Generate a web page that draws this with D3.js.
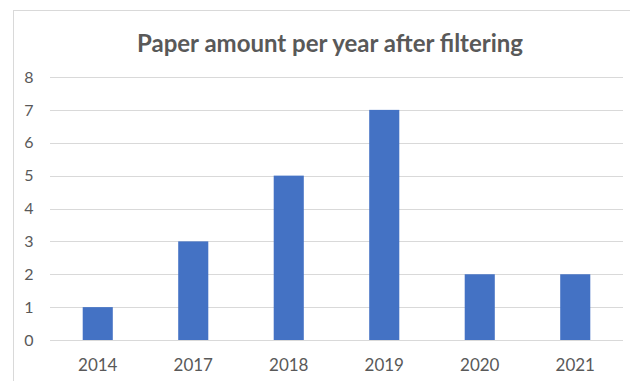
<!DOCTYPE html>
<html>
<head>
<meta charset="utf-8">
<script src="https://cdn.jsdelivr.net/npm/d3@7"></script>
<style>
  html, body { margin: 0; padding: 0; background: #fff; }
  svg { display: block; }
</style>
</head>
<body>
<svg id="chart" width="630" height="381"></svg>
<script>
const years = ["2014", "2017", "2018", "2019", "2020", "2021"];
const paperCounts = [1, 3, 5, 7, 2, 2];
const yTicks = [0, 1, 2, 3, 4, 5, 6, 7, 8];
const chartTitle = "Paper amount per year after filtering";

const svg = d3.select("#chart");
const plot = { left: 50, right: 623, top: 77, bottom: 340 };
const textColor = "#595959";
const fontFamily = "Lato, 'Open Sans', sans-serif";

// chart frame
svg.append("rect")
  .attr("x", 13.5).attr("y", 10.5)
  .attr("width", 640).attr("height", 400)
  .attr("fill", "#fff").attr("stroke", "#d9d9d9").attr("stroke-width", 1);

const x = d3.scaleBand().domain(years).range([plot.left, plot.right]).paddingInner(0.685).paddingOuter(0.3425);
const y = d3.scaleLinear().domain([0, 8]).range([plot.bottom, plot.top]);

// gridlines
svg.append("g").selectAll("line").data(yTicks).join("line")
  .attr("x1", plot.left).attr("x2", plot.right)
  .attr("y1", d => Math.round(y(d)) + 0.5).attr("y2", d => Math.round(y(d)) + 0.5)
  .attr("stroke", "#d9d9d9").attr("stroke-width", 1);

// y axis labels
const yAxis = d3.axisLeft(y).tickValues(yTicks).tickSize(0).tickPadding(0).tickFormat(d3.format("d"));
const gy = svg.append("g").attr("transform", `translate(${plot.left - 21},0)`).call(yAxis);
gy.select(".domain").remove();
gy.selectAll("text").attr("fill", textColor).attr("font-size", 16).attr("font-family", fontFamily).attr("text-anchor", "middle");

// bars
svg.append("g").selectAll("rect").data(years).join("rect")
  .attr("x", d => x(d))
  .attr("width", x.bandwidth())
  .attr("y", (d, i) => y(paperCounts[i]))
  .attr("height", (d, i) => y(0) - y(paperCounts[i]))
  .attr("fill", "#4472c4");

// x axis labels
const xAxis = d3.axisBottom(x).tickSize(0).tickPadding(0);
const gx = svg.append("g").attr("transform", `translate(0,${plot.bottom + 19})`).call(xAxis);
gx.select(".domain").remove();
gx.selectAll("text").attr("fill", textColor).attr("font-size", 17).attr("font-family", fontFamily);

// title
svg.append("text")
  .attr("x", 330).attr("y", 52)
  .attr("text-anchor", "middle")
  .attr("fill", textColor)
  .attr("font-family", fontFamily)
  .attr("font-weight", "bold")
  .attr("font-size", 24)
  .text(chartTitle);
</script>
</body>
</html>
